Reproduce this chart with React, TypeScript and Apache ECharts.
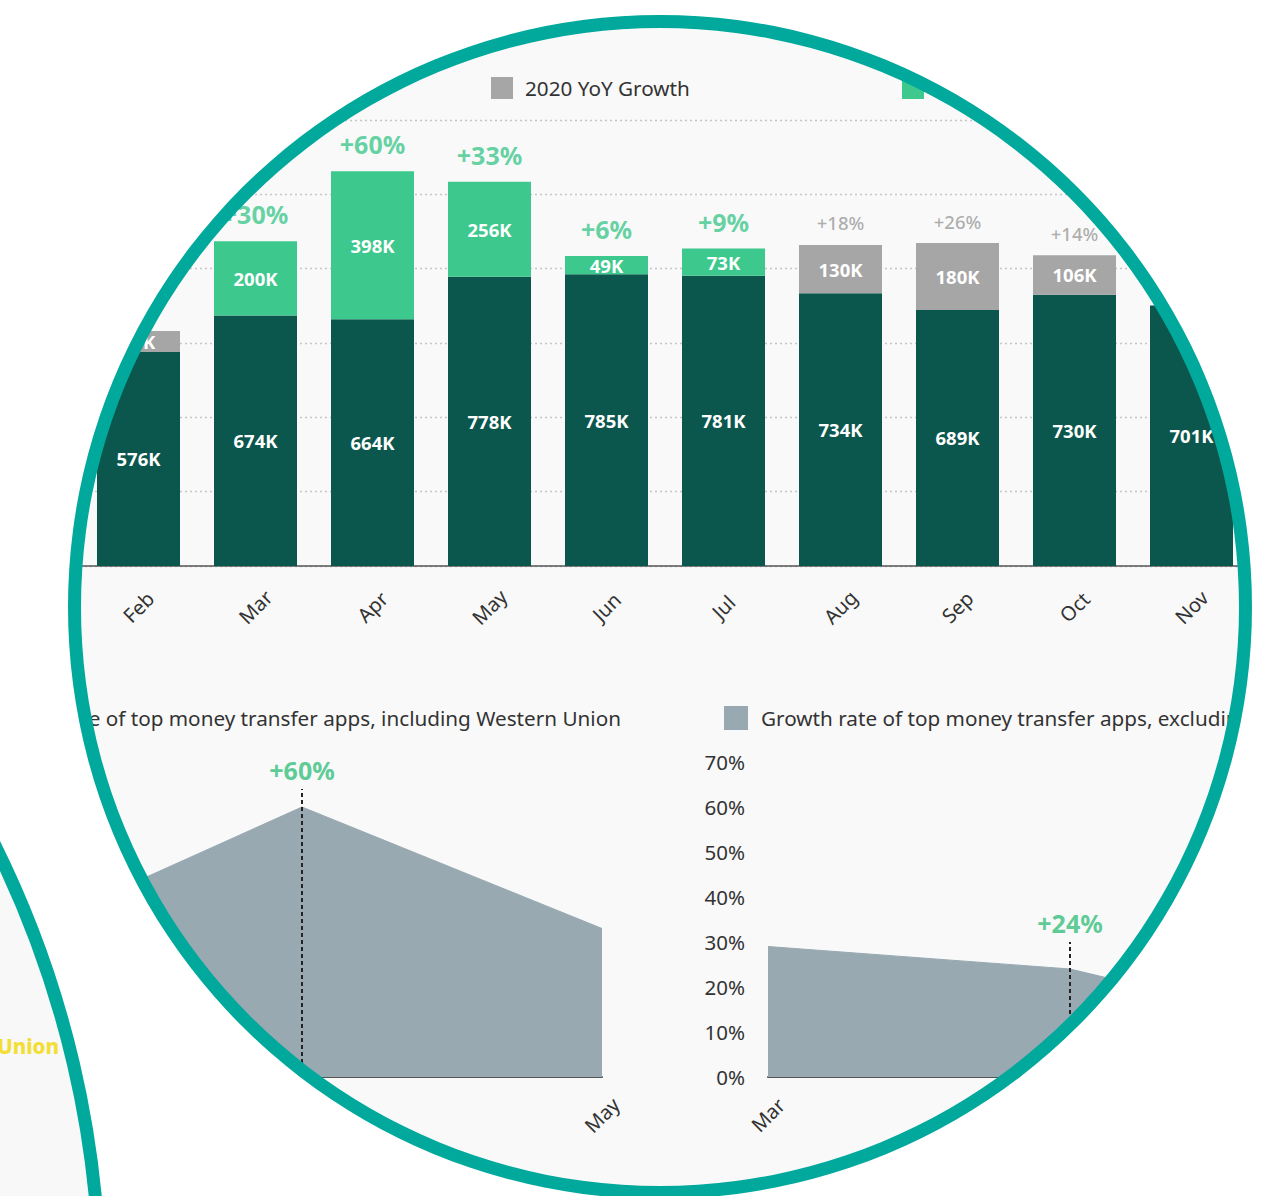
import React, { useEffect, useRef } from "react";
import * as echarts from "echarts";

// Monthly downloads of top money transfer apps (thousands)
const months = ["Feb", "Mar", "Apr", "May", "Jun", "Jul", "Aug", "Sep", "Oct", "Nov"];
const baseDownloads = [576, 674, 664, 778, 785, 781, 734, 689, 730, 701];
const covidGrowth: (number | null)[] = [null, 200, 398, 256, 49, 73, null, null, null, null];
const otherGrowth: (number | null)[] = [56, null, null, null, null, null, 130, 180, 106, null];
const growthPct: (number | null)[] = [null, 30, 60, 33, 6, 9, 18, 26, 14, null];

// Growth rate (%) of the top apps, with and without Western Union
const rateMonths = ["Mar", "Apr", "May"];
const rateInclWU = [30, 60, 33];
const rateExclWU = [29, 24, 8];

const NAME_BASE = "2019 Downloads";
const NAME_COVID = "2020 YoY Growth (COVID-19)";
const NAME_GROWTH = "2020 YoY Growth";
const NAME_INCL = "Growth rate of top money transfer apps, including Western Union";
const NAME_EXCL = "Growth rate of top money transfer apps, excluding Western Union";

const FONT = "'Noto Sans', 'Open Sans', sans-serif";
const DARK = "#0b574d";
const GREEN = "#3dc88d";
const GREY = "#a6a6a6";
const SLATE = "#98a9b2";
const TEAL = "#00a99c";
const LABEL_GREEN = "#5fcb97";

const dash = (v: number | null) => (v == null ? "-" : v);

function buildOption() {
  const pctData = growthPct.map((p, i) => {
    if (p == null) return "-";
    const isCovid = covidGrowth[i] != null;
    const growth = (isCovid ? covidGrowth[i] : otherGrowth[i]) as number;
    return {
      value: baseDownloads[i] + growth,
      label: isCovid
        ? { color: GREEN, fontSize: 25, fontWeight: "bold", distance: 14 }
        : { color: "#9a9a9a", fontSize: 18.5, fontWeight: 500, distance: 12 },
    };
  });

  const barLabel = {
    show: true,
    position: "inside",
    color: "#ffffff",
    fontSize: 18.5,
    fontWeight: "bold",
    formatter: (p: any) => `${p.value}K`,
  };

  const legendBase = {
    padding: 0,
    icon: "rect",
    selectedMode: false,
    textStyle: { fontSize: 20.7, color: "#333", padding: [0, 0, 0, 7] },
  };

  const rateX = (gridIndex: number, showFirst: boolean, showLast: boolean) => ({
    type: "category",
    gridIndex,
    data: rateMonths,
    boundaryGap: false,
    axisTick: { show: false },
    axisLine: { lineStyle: { color: "#555", width: 2 } },
    axisLabel: {
      rotate: 45,
      interval: 0,
      fontSize: 20,
      color: "#333",
      margin: 38,
      align: "center",
      verticalAlign: "middle",
      showMinLabel: showFirst,
      showMaxLabel: showLast,
    },
  });

  const rateY = (gridIndex: number, showLabels: boolean) => ({
    type: "value",
    gridIndex,
    min: 0,
    max: 70,
    interval: 10,
    axisLine: { show: false },
    axisTick: { show: false },
    splitLine: { show: false },
    axisLabel: {
      show: showLabels,
      formatter: "{value}%",
      fontSize: 20.5,
      color: "#333",
      margin: 23,
    },
  });

  const markLine = (top: number, text: string) => ({
    silent: true,
    symbol: ["none", "none"],
    lineStyle: { type: [4, 3], color: "#222", width: 2 },
    label: {
      show: true,
      position: "end",
      formatter: text,
      color: LABEL_GREEN,
      fontSize: 25,
      fontWeight: "bold",
      distance: 7,
    },
    data: [[{ coord: [1, 0] }, { coord: [1, top] }]],
  });

  return {
    animation: false,
    backgroundColor: "#f9f9f9",
    textStyle: { fontFamily: FONT },
    legend: [
      { ...legendBase, data: [NAME_GROWTH], left: 491, top: 77, itemWidth: 22, itemHeight: 22 },
      { ...legendBase, data: [NAME_COVID], left: 902, top: 77, itemWidth: 22, itemHeight: 22 },
      {
        ...legendBase,
        data: [NAME_INCL],
        right: 647,
        top: 706,
        itemWidth: 24,
        itemHeight: 24,
        textStyle: { ...legendBase.textStyle, padding: [0, 0, 0, 8] },
      },
      {
        ...legendBase,
        data: [NAME_EXCL],
        left: 724,
        top: 706,
        itemWidth: 24,
        itemHeight: 24,
        textStyle: { ...legendBase.textStyle, padding: [0, 0, 0, 8] },
      },
    ],
    grid: [
      { left: 80, width: 1170, top: 120, height: 446, outerBoundsMode: "none" },
      { left: 2, width: 600, top: 762, height: 315, outerBoundsMode: "none" },
      { left: 768, width: 604, top: 762, height: 315, outerBoundsMode: "none" },
    ],
    xAxis: [
      {
        type: "category",
        gridIndex: 0,
        data: months,
        axisTick: { show: false },
        axisLine: { lineStyle: { color: "#555", width: 1.5 } },
        axisLabel: {
          rotate: 45,
          interval: 0,
          fontSize: 20,
          color: "#333",
          margin: 41,
          align: "center",
          verticalAlign: "middle",
        },
      },
      rateX(1, false, true),
      rateX(2, true, false),
    ],
    yAxis: [
      {
        type: "value",
        gridIndex: 0,
        min: 0,
        max: 1200,
        interval: 200,
        axisLabel: { show: false },
        axisLine: { show: false },
        axisTick: { show: false },
        splitLine: { lineStyle: { type: [2, 3], color: "#c6c6c6", width: 1.3 } },
      },
      rateY(1, false),
      rateY(2, true),
    ],
    series: [
      {
        name: NAME_BASE,
        type: "bar",
        stack: "downloads",
        barWidth: 83,
        itemStyle: { color: DARK },
        label: barLabel,
        data: baseDownloads,
      },
      {
        name: NAME_COVID,
        type: "bar",
        stack: "downloads",
        barWidth: 83,
        itemStyle: { color: GREEN },
        label: barLabel,
        data: covidGrowth.map(dash),
      },
      {
        name: NAME_GROWTH,
        type: "bar",
        stack: "downloads",
        barWidth: 83,
        itemStyle: { color: GREY },
        label: barLabel,
        data: otherGrowth.map(dash),
      },
      {
        name: "growth-pct",
        type: "scatter",
        symbolSize: 1,
        itemStyle: { color: "rgba(0,0,0,0)" },
        silent: true,
        label: {
          show: true,
          position: "top",
          formatter: (p: any) => `+${growthPct[p.dataIndex]}%`,
        },
        data: pctData,
        z: 5,
      },
      {
        name: NAME_INCL,
        type: "line",
        xAxisIndex: 1,
        yAxisIndex: 1,
        symbol: "none",
        itemStyle: { color: SLATE },
        lineStyle: { color: SLATE, width: 1 },
        areaStyle: { color: SLATE, opacity: 1 },
        data: rateInclWU,
        markLine: markLine(64, `+${rateInclWU[1]}%`),
      },
      {
        name: NAME_EXCL,
        type: "line",
        xAxisIndex: 2,
        yAxisIndex: 2,
        symbol: "none",
        itemStyle: { color: SLATE },
        lineStyle: { color: SLATE, width: 1 },
        areaStyle: { color: SLATE, opacity: 1 },
        data: rateExclWU,
        markLine: markLine(30, `+${rateExclWU[1]}%`),
      },
    ],
    graphic: [
      // everything outside the magnifier lens is plain white
      {
        type: "ring",
        silent: true,
        z: 100,
        shape: { cx: 660, cy: 607, r: 1100, r0: 590 },
        style: { fill: "#ffffff" },
      },
      // lens rim
      {
        type: "ring",
        silent: true,
        z: 101,
        shape: { cx: 660, cy: 607, r: 592, r0: 579 },
        style: { fill: TEAL },
      },
      // neighbouring lens at the lower left
      {
        type: "circle",
        silent: true,
        z: 102,
        shape: { cx: -910, cy: 1294, r: 1010 },
        style: { fill: "#f8f8f8", stroke: TEAL, lineWidth: 13 },
      },
      {
        type: "text",
        silent: true,
        z: 103,
        x: 59,
        y: 1046,
        style: {
          text: "Union",
          fill: "#f2de34",
          font: `800 20.5px ${FONT}`,
          align: "right",
          verticalAlign: "middle",
          textAlign: "right",
          textVerticalAlign: "middle",
        },
      },
    ],
  };
}

export default function App() {
  const ref = useRef<HTMLDivElement>(null);
  useEffect(() => {
    if (!ref.current) return;
    const chart = echarts.init(ref.current, undefined, { renderer: "svg" });
    chart.setOption(buildOption() as any);
    return () => chart.dispose();
  }, []);
  return (
    <div
      ref={ref}
      style={{ position: "absolute", left: 0, top: 0, width: 1268, height: 1196 }}
    />
  );
}
